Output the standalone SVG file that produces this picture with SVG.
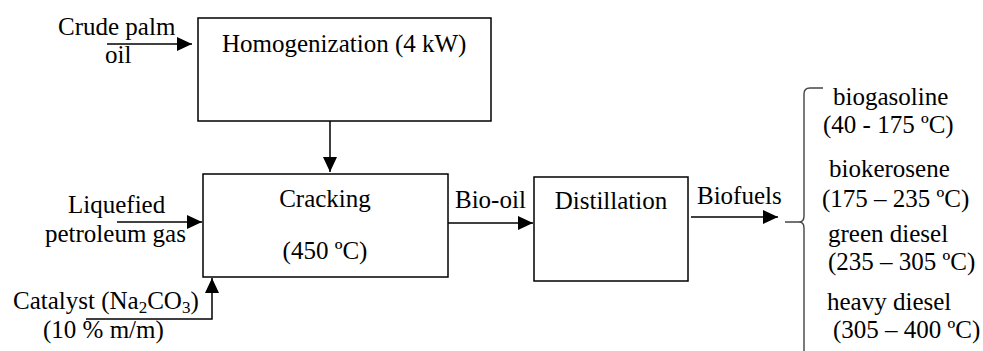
<svg xmlns="http://www.w3.org/2000/svg" width="983" height="351" viewBox="0 0 983 351" font-family="'Liberation Serif', 'Times New Roman', 'DejaVu Serif', serif">
<defs>
<style>
text{font-family:'Liberation Serif','Times New Roman','DejaVu Serif',serif;font-size:25px;fill:#000}
.box{fill:#fff;stroke:#000;stroke-width:1.5}
.ln{fill:none;stroke:#000;stroke-width:1.5}
.br{fill:none;stroke:#444;stroke-width:1.4}
</style>
<marker id="ah2" viewBox="0 0 10 10" refX="10" refY="5" markerWidth="15" markerHeight="14" markerUnits="userSpaceOnUse" orient="auto" preserveAspectRatio="none">
<path d="M0,0 L10,5 L0,10 Z" fill="#000"/>
</marker>
</defs>
<rect width="983" height="351" fill="#fff"/>
<g id="connectors">
<line class="ln" x1="107" y1="44" x2="192" y2="44" marker-end="url(#ah2)"/>
<line class="ln" x1="330" y1="121" x2="330" y2="172" marker-end="url(#ah2)"/>
<line class="ln" x1="117" y1="222" x2="202" y2="222" marker-end="url(#ah2)"/>
<polyline class="ln" points="86,319 212,319 212,278" marker-end="url(#ah2)"/>
<line class="ln" x1="448" y1="223" x2="533" y2="223" marker-end="url(#ah2)"/>
<line class="ln" x1="691" y1="217" x2="778" y2="217" marker-end="url(#ah2)"/>
</g>
<g id="homogenization">
<rect class="box" x="198" y="18" width="293" height="103"/>
<text x="222" y="52">Homogenization (4 kW)</text>
</g>
<g id="cracking">
<rect class="box" x="203" y="174" width="245" height="103"/>
<text x="325" y="207" text-anchor="middle">Cracking</text>
<text x="325" y="259" text-anchor="middle">(450 ºC)</text>
</g>
<g id="distillation">
<rect class="box" x="534" y="177" width="154" height="104"/>
<text x="611" y="209" text-anchor="middle">Distillation</text>
</g>
<g id="inputs">
<text x="58" y="35">Crude palm</text>
<text x="105" y="63">oil</text>
<text x="68" y="213">Liquefied</text>
<text x="45" y="242">petroleum gas</text>
<text x="13" y="309">Catalyst (Na<tspan font-size="17" dy="4">2</tspan><tspan dy="-4">CO</tspan><tspan font-size="17" dy="4">3</tspan><tspan dy="-4">)</tspan></text>
<text x="43" y="338">(10 % m/m)</text>
</g>
<g id="labels">
<text x="455" y="208">Bio-oil</text>
<text x="697" y="204">Biofuels</text>
</g>
<g id="products">
<path class="br" d="M785,222 L799,222 Q804,222 804,216 L804,94 Q804,88 810,88 L823,88 M799,222 Q804,222 804,228 L804,351"/>
<text x="833" y="105">biogasoline</text>
<text x="823" y="133">(40 - 175 ºC)</text>
<text x="829" y="177">biokerosene</text>
<text x="822" y="207">(175 – 235 ºC)</text>
<text x="828" y="242">green diesel</text>
<text x="828" y="270">(235 – 305 ºC)</text>
<text x="827" y="310">heavy diesel</text>
<text x="833" y="338">(305 – 400 ºC)</text>
</g>
</svg>
